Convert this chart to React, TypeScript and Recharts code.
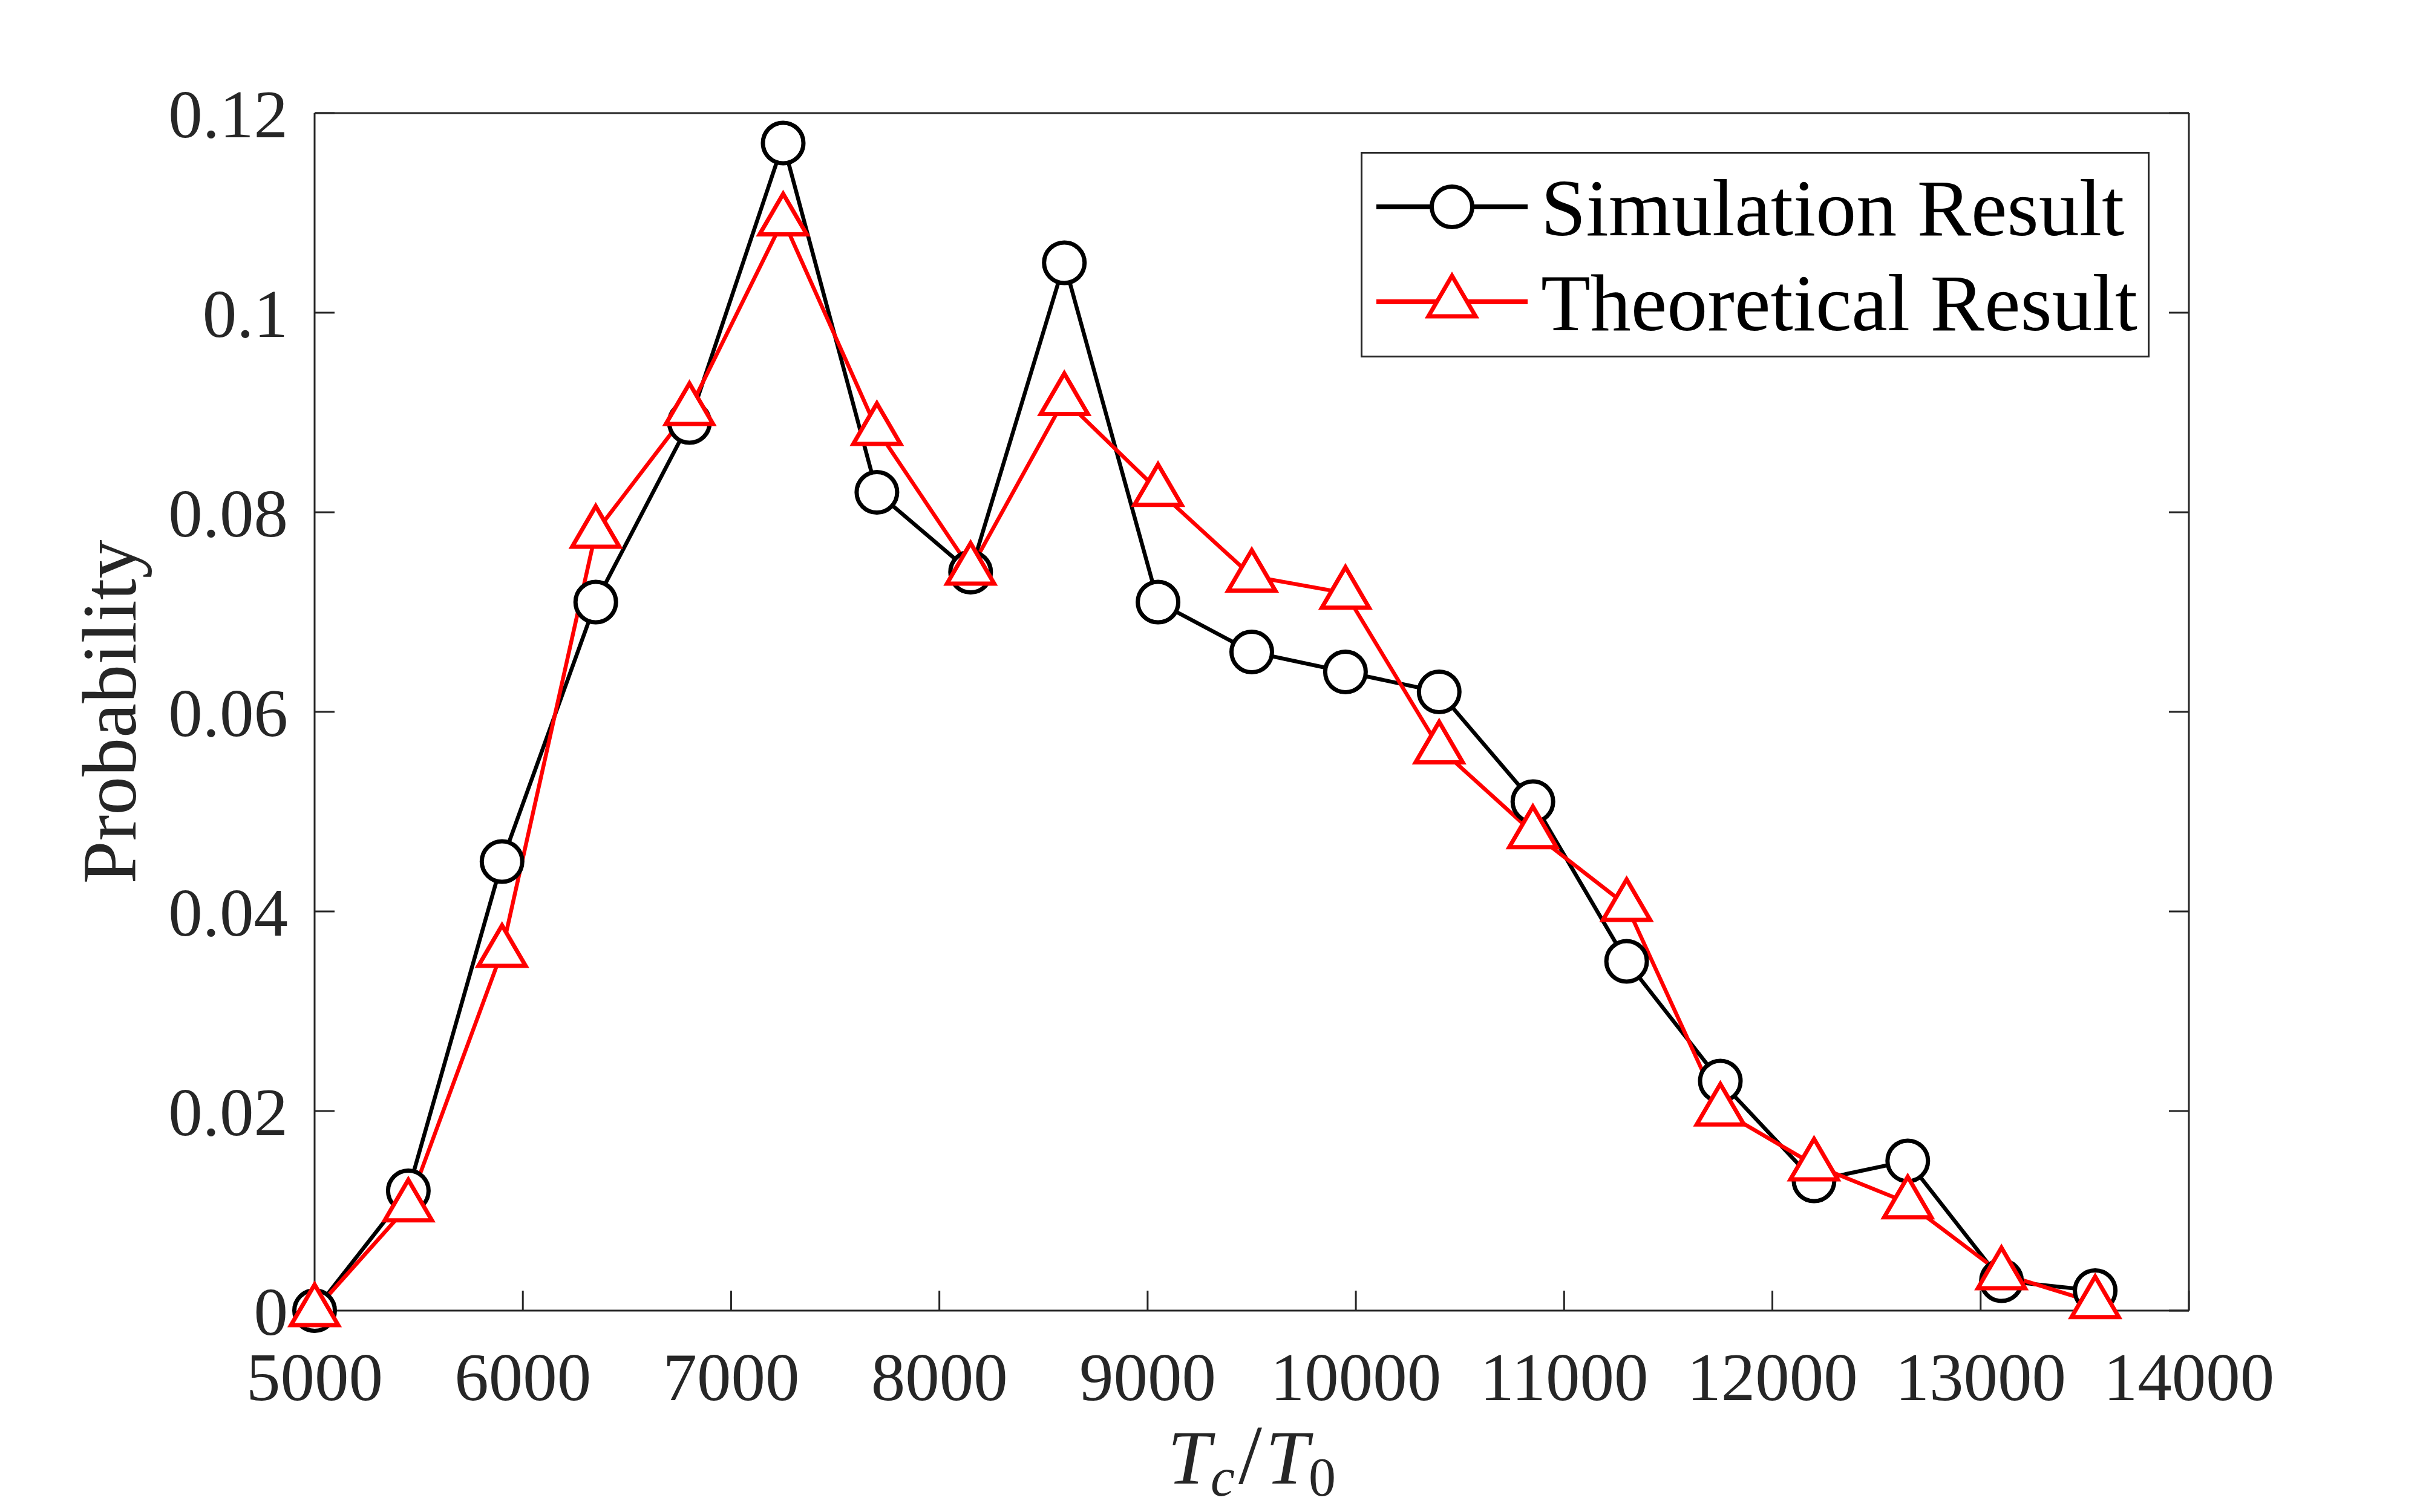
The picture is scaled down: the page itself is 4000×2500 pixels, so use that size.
import React from "react"
import { LineChart, Line, XAxis, YAxis, Legend } from "recharts"

// T_c / T_0 bins
const tcRatio = [5000, 5450, 5900, 6350, 6800, 7250, 7700, 8150, 8600, 9050, 9500, 9950, 10400, 10850, 11300, 11750, 12200, 12650, 13100, 13550]
const simulation = [0, 0.012, 0.045, 0.071, 0.089, 0.117, 0.082, 0.074, 0.105, 0.071, 0.066, 0.064, 0.062, 0.051, 0.035, 0.023, 0.013, 0.015, 0.003, 0.002]
const theoretical = [0, 0.0105, 0.036, 0.078, 0.0903, 0.1093, 0.0883, 0.0743, 0.0913, 0.0822, 0.0736, 0.0719, 0.0564, 0.0479, 0.0406, 0.0201, 0.0146, 0.0108, 0.0037, 0.0008]

const xTicks = [5000, 6000, 7000, 8000, 9000, 10000, 11000, 12000, 13000, 14000]
const yTicks = [0, 0.02, 0.04, 0.06, 0.08, 0.1, 0.12]
const seriesNames = { sim: "Simulation Result", theo: "Theoretical Result" }

const data = tcRatio.map((x, i) => ({ x, sim: simulation[i], theo: theoretical[i] }))

const FONT = '"Liberation Serif", "Times New Roman", serif'
const AXIS = "#262626"
const tickStyle = { fontFamily: FONT, fontSize: 113, fill: AXIS }

function circleMark(cx: number, cy: number, key?: string) {
  return <circle key={key} cx={cx} cy={cy} r={33.5} fill="#fff" stroke="#000" strokeWidth={7} />
}

function triangleMark(cx: number, cy: number, key?: string) {
  const d = `M${cx},${cy - 43} L${cx + 39},${cy + 24} L${cx - 39},${cy + 24} Z`
  return <path key={key} d={d} fill="#fff" stroke="#ff0000" strokeWidth={7} strokeLinejoin="miter" />
}

function CircleDot(props: any) {
  const { cx, cy, index } = props
  if (cx == null || cy == null) return <g key={`c-${index}`} />
  return circleMark(cx, cy, `c-${index}`)
}

function TriangleDot(props: any) {
  const { cx, cy, index } = props
  if (cx == null || cy == null) return <g key={`t-${index}`} />
  return triangleMark(cx, cy, `t-${index}`)
}

function LegendBox(props: any) {
  const payload = props.payload || []
  return (
    <div style={{ width: 1304, height: 340, boxSizing: "border-box", border: `3px solid ${AXIS}`, background: "#fff" }}>
      <svg width={1298} height={334} style={{ display: "block" }}>
        {payload.map((entry: any, i: number) => {
          const lineY = 88 + i * 157
          const isSim = entry.dataKey === "sim"
          return (
            <g key={entry.dataKey}>
              <line x1={23} x2={273} y1={lineY} y2={lineY} stroke={entry.color} strokeWidth={8} />
              {isSim ? circleMark(148, lineY) : triangleMark(148, lineY)}
              <text x={295} y={lineY + 47} fontFamily={FONT} fontSize={134} fill="#000">
                {entry.value}
              </text>
            </g>
          )
        })}
      </svg>
    </div>
  )
}

function XLabel(props: any) {
  const { x, y, width } = props.viewBox
  const cx = x + width / 2
  return (
    <text x={cx} y={y + 286} textAnchor="middle" fontFamily={FONT} fontSize={128} fill={AXIS}>
      <tspan fontStyle="italic">T</tspan>
      <tspan fontStyle="italic" fontSize={90} dy={20}>c</tspan>
      <tspan fontSize={140} dy={-20} dx={6}>/</tspan>
      <tspan fontStyle="italic" dx={6}>T</tspan>
      <tspan fontSize={90} dy={20}>0</tspan>
    </text>
  )
}

function YLabel(props: any) {
  const { x, y, width, height } = props.viewBox
  const bx = x + width - 296
  const cy = y + height / 2
  return (
    <text x={bx} y={cy} transform={`rotate(-90, ${bx}, ${cy})`} textAnchor="middle" fontFamily={FONT} fontSize={128} fill={AXIS}>
      Probability
    </text>
  )
}

const noLabel = () => <g />

export default function App() {
  return (
    <div style={{ position: "absolute", left: 0, top: 0, width: 4000, height: 2500, background: "#fff" }}>
      <LineChart width={4000} height={2500} data={data} margin={{ top: 186, right: 381, bottom: 183, left: 270 }}>
        <XAxis
          xAxisId="bottom"
          dataKey="x"
          type="number"
          domain={[5000, 14000]}
          ticks={xTicks}
          interval={0}
          height={150}
          tick={tickStyle}
          tickSize={-33}
          tickMargin={101}
          stroke={AXIS}
          strokeWidth={3}
          label={{ content: XLabel }}
        />
        <XAxis
          xAxisId="top"
          orientation="top"
          type="number"
          domain={[5000, 14000]}
          allowDataOverflow
          ticks={xTicks}
          interval={0}
          height={1}
          tick={noLabel}
          tickSize={-33}
          stroke={AXIS}
          strokeWidth={3}
        />
        <YAxis
          yAxisId="left"
          type="number"
          domain={[0, 0.12]}
          ticks={yTicks}
          interval={0}
          width={250}
          tick={tickStyle}
          tickSize={-33}
          tickMargin={77}
          tickFormatter={(v: number) => String(v)}
          stroke={AXIS}
          strokeWidth={3}
          label={{ content: YLabel }}
        />
        <YAxis
          yAxisId="right"
          orientation="right"
          type="number"
          domain={[0, 0.12]}
          allowDataOverflow
          ticks={yTicks}
          interval={0}
          width={1}
          tick={noLabel}
          tickSize={-33}
          stroke={AXIS}
          strokeWidth={3}
        />
        <Legend
          content={LegendBox}
          layout="horizontal"
          verticalAlign="middle"
          align="center"
          wrapperStyle={{ left: 2249, top: 251, width: 1304, height: 340 }}
        />
        <Line
          xAxisId="bottom"
          yAxisId="left"
          dataKey="sim"
          name={seriesNames.sim}
          type="linear"
          stroke="#000000"
          strokeWidth={6.5}
          dot={CircleDot}
          activeDot={false}
          isAnimationActive={false}
        />
        <Line
          xAxisId="bottom"
          yAxisId="left"
          dataKey="theo"
          name={seriesNames.theo}
          type="linear"
          stroke="#ff0000"
          strokeWidth={6.5}
          dot={TriangleDot}
          activeDot={false}
          isAnimationActive={false}
        />
      </LineChart>
    </div>
  )
}
